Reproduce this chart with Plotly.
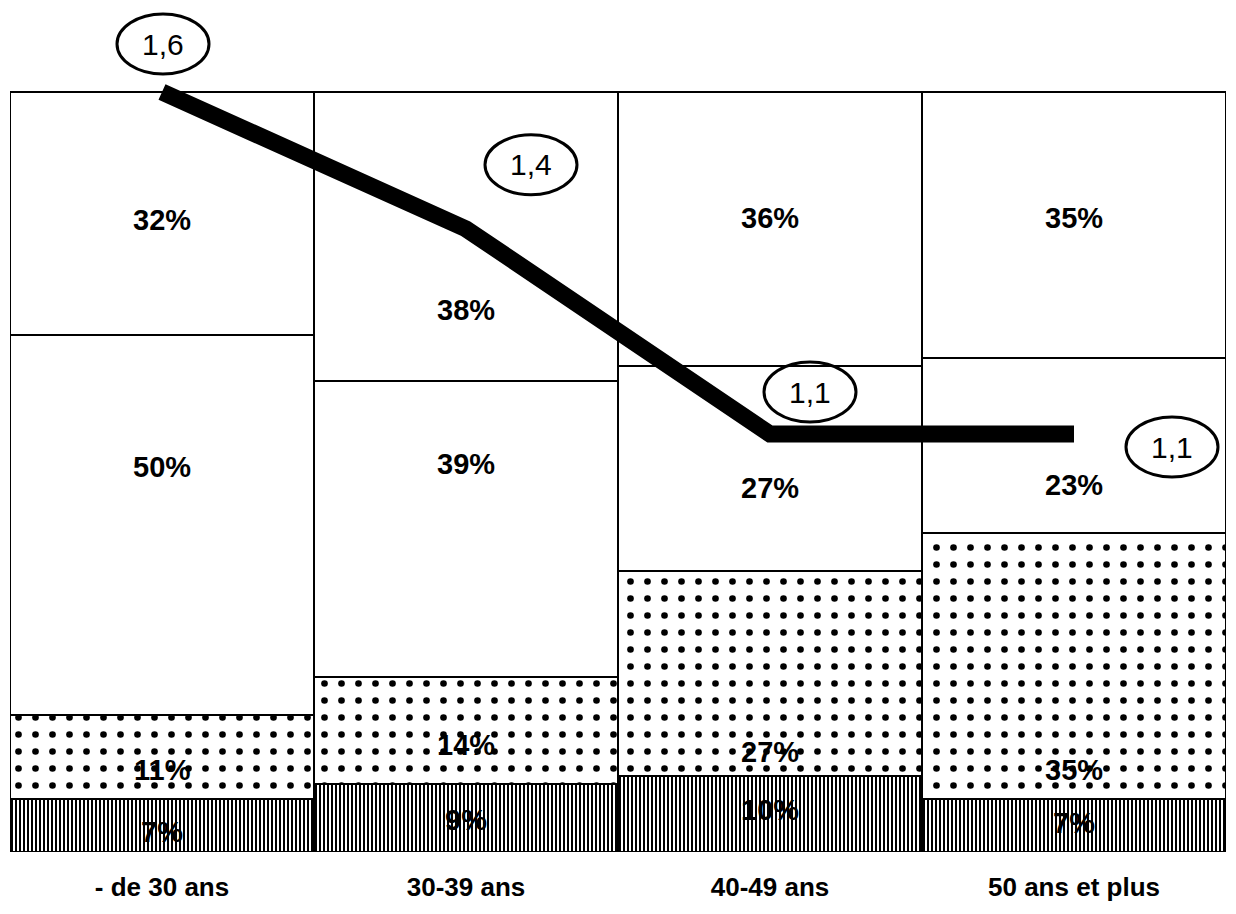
import plotly.graph_objects as go

# Age groups
categories = ["- de 30 ans", "30-39 ans", "40-49 ans", "50 ans et plus"]

# Stacked shares (%), bottom to top
seg_stripes = [7, 9, 10, 7]
seg_dots = [11, 14, 27, 35]
seg_mid = [50, 39, 27, 23]
seg_top = [32, 38, 36, 35]

# Index line (circled values)
index_values = [1.6, 1.4, 1.1, 1.1]
index_labels = ["1,6", "1,4", "1,1", "1,1"]

FONT = "Liberation Sans, Arial, Helvetica, sans-serif"

fig = go.Figure()

segments = [
    (seg_stripes, dict(shape="|", size=4, solidity=0.5)),
    (seg_dots, dict(shape=".", size=17, solidity=0.12)),
    (seg_mid, None),
    (seg_top, None),
]

# label nudges in pixels (up positive), per segment then per bar
label_shift = [
    [-7, -2, 4, 2],
    [-13, -15, -79, -104],
    [58, 65, -20, -40],
    [-6, -74, 11, 7],
]

base = [0, 0, 0, 0]
for (values, pattern), shifts in zip(segments, label_shift):
    marker = dict(color="white", line=dict(color="black", width=2.5))
    if pattern:
        marker["pattern"] = dict(fgcolor="black", bgcolor="white", fgopacity=1,
                                 fillmode="replace", **pattern)
    fig.add_trace(
        go.Bar(
            x=categories,
            y=values,
            marker=marker,
            showlegend=False,
            hoverinfo="skip",
        )
    )
    for cat, b, v, s in zip(categories, base, values, shifts):
        fig.add_annotation(
            x=cat, y=b + v / 2, xref="x", yref="y",
            text=f"{v}%", showarrow=False, yshift=s,
            font=dict(family=FONT, size=29, color="black", weight="bold"),
        )
    base = [b + v for b, v in zip(base, values)]

# Thick index line on a hidden secondary axis
fig.add_trace(
    go.Scatter(
        x=categories,
        y=index_values,
        yaxis="y2",
        mode="lines",
        line=dict(color="black", width=17),
        showlegend=False,
        hoverinfo="skip",
    )
)

# circled labels: offsets in pixels from each line point (right, up)
label_offsets = [(1, 48), (65, 64), (40, 42), (98, -13)]
ew, eh = 46, 30
for cat, val, lab, (dx, dy) in zip(categories, index_values, index_labels, label_offsets):
    fig.add_shape(
        type="circle",
        xref="x", yref="y2",
        xsizemode="pixel", ysizemode="pixel",
        xanchor=cat, yanchor=val,
        x0=dx - ew, x1=dx + ew, y0=dy - eh, y1=dy + eh,
        line=dict(color="black", width=3),
        fillcolor="rgba(0,0,0,0)",
    )
    fig.add_annotation(
        x=cat, y=val, xref="x", yref="y2",
        text=lab, showarrow=False,
        xshift=dx, yshift=dy,
        font=dict(family=FONT, size=30, color="black"),
    )

fig.update_layout(
    barmode="stack",
    bargap=0,
    width=1228,
    height=906,
    paper_bgcolor="white",
    plot_bgcolor="white",
    margin=dict(l=2, r=10, t=4, b=62),
    xaxis=dict(
        showgrid=False,
        showline=False,
        ticks="outside",
        ticklen=12,
        tickcolor="white",
        tickfont=dict(family=FONT, size=26, color="black", weight="bold"),
    ),
    yaxis=dict(range=[0, 110.53], visible=False, showgrid=False),
    yaxis2=dict(range=[0.489, 1.717], overlaying="y", visible=False, showgrid=False),
)

fig.write_html("out.html")
